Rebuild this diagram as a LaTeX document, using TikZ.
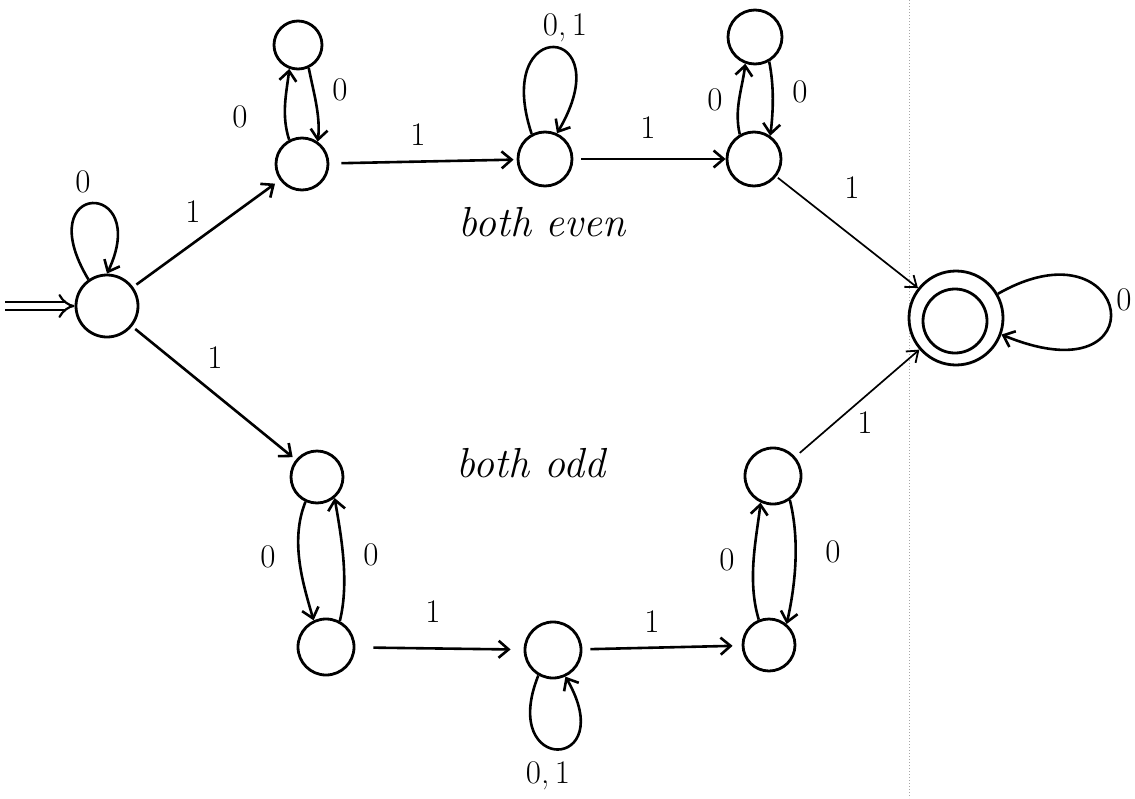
\documentclass[tikz,border=0pt]{standalone}
\usetikzlibrary{arrows.meta}
\begin{document}
\begin{tikzpicture}[x=1pt,y=-1pt,
  st/.style={circle,draw,line width=2.8pt,inner sep=0pt,minimum size=#1},
  st/.default=54pt,
  tr/.style={line width=2.6pt,-{Straight Barb[length=10pt,width=17pt,line width=2.6pt]}},
  thintr/.style={line width=1.7pt,-{Straight Barb[length=10pt,width=15pt,line width=1.8pt]}},
  lbl/.style={font=\fontsize{33}{36}\selectfont,inner sep=0pt},
  hand/.style={font=\itshape\fontsize{42}{46}\selectfont,inner sep=0pt}]
\useasboundingbox (0,0) rectangle (1135,798);
% scan fold line
\draw[gray!70,line width=0.7pt,dash pattern=on 1.2pt off 1.8pt] (909,0) -- (909,798);
% states
\node[st=62pt] (q0) at (107,306) {};
\node[st=52pt] (E1) at (302,164) {};
\node[st=48pt] (E1t) at (298,45) {};
\node[st=54pt] (E2) at (545,159) {};
\node[st=54pt] (E3) at (754,159) {};
\node[st=54pt] (E3t) at (755,37) {};
\node[st=94pt] (F) at (956,318) {};
\node[st=64pt] (Fin) at (955,321) {};
\node[st=52pt] (O1) at (317,477) {};
\node[st=56pt] (O2) at (326,647) {};
\node[st=56pt] (M) at (553,650) {};
\node[st=52pt] (O4) at (769,645) {};
\node[st=56pt] (O4u) at (773,476) {};
% start arrow
\coordinate (s0) at (5,306);
\draw[line width=2.2pt,double distance=6pt,-{Implies[length=9pt]}] (s0) -- (q0.west);
% loops
\draw[tr] (q0.125) .. controls +(-60,-100) and +(45,-95) .. (q0.90);
\draw[tr] (E2.118) .. controls +(-40,-120) and +(65,-110) .. (E2.65);
\draw[tr] (M.240) .. controls +(-40,100) and +(55,95) .. (M.295);
\draw[tr] (F.30) .. controls +(135,-77) and +(160,66) .. (F.-20);
% pairs
\draw[tr] (E1.118) .. controls +(-8,-25) and +(-3,25) .. (E1t.250);
\draw[tr] (E1t.295) .. controls +(5,25) and +(3,-25) .. (E1.55);
\draw[tr] (E3.120) .. controls +(-6,-25) and +(-3,25) .. (E3t.250);
\draw[tr] (E3t.300) .. controls +(5,25) and +(3,-25) .. (E3.55);
\draw[tr] (O1.245) .. controls +(-16,40) and +(-10,-35) .. (O2.115);
\draw[tr] (O2.62) .. controls +(10,-40) and +(6,35) .. (O1.-50);
\draw[tr] (O4.112) .. controls +(-12,-40) and +(-4,35) .. (O4u.245);
\draw[tr] (O4u.-55) .. controls +(10,40) and +(9,-40) .. (O4.50);
% straight edges
\draw[tr,shorten <=4pt,shorten >=6pt] (q0) -- (E1);
\draw[tr,shorten <=4pt,shorten >=4pt] (q0) -- (O1);
\draw[tr,shorten <=12pt,shorten >=3pt] (E1) -- (E2);
\draw[tr,shorten <=8pt,shorten >=0pt] (E2) -- (E3);
\draw[thintr,shorten <=2pt] (E3) -- (F);
\draw[thintr,shorten <=6pt] (O4u) -- (F);
\draw[tr,shorten <=18pt,shorten >=13pt] (O2) -- (M);
\draw[tr,shorten <=8pt,shorten >=9pt] (M) -- (O4);
% labels
\node[lbl] (a1) at (193,212) {1};
\node[lbl] (a2) at (215,358) {1};
\node[lbl] (a3) at (83,182) {0};
\node[lbl] (a4) at (240,117) {0};
\node[lbl] (a5) at (340,90) {0};
\node[lbl] (a6) at (418,135) {1};
\node[lbl] (a7) at (565,28) {0,\,1};
\node[lbl] (a8) at (648,128) {1};
\node[lbl] (a9) at (715,100) {0};
\node[lbl] (a10) at (800,92) {0};
\node[lbl] (a11) at (852,188) {1};
\node[lbl] (a12) at (1124,300) {0};
\node[lbl] (a13) at (268,557) {0};
\node[lbl] (a14) at (371,555) {0};
\node[lbl] (a15) at (433,612) {1};
\node[lbl] (a16) at (548,776) {0,\,1};
\node[lbl] (a17) at (652,622) {1};
\node[lbl] (a18) at (727,560) {0};
\node[lbl] (a19) at (833,552) {0};
\node[lbl] (a20) at (865,423) {1};
\node[hand] (t1) at (542,222) {both even};
\node[hand] (t2) at (531,463) {both odd};
\end{tikzpicture}
\end{document}
